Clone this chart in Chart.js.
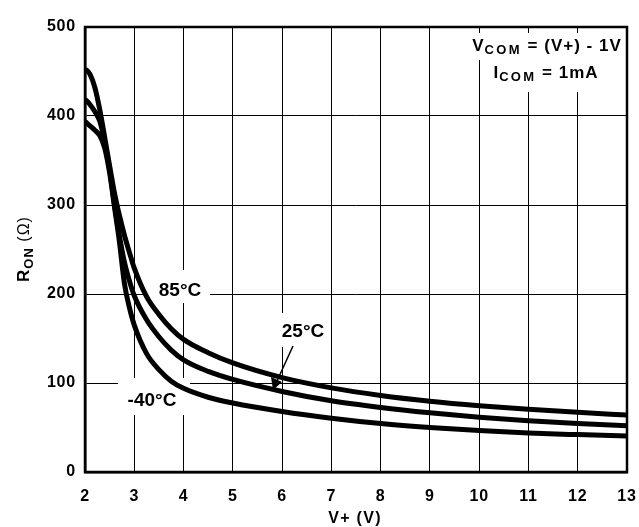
<!DOCTYPE html>
<html>
<head>
<meta charset="utf-8">
<script src="https://cdn.jsdelivr.net/npm/chart.js@4.4.1/dist/chart.umd.min.js"></script>
<style>
  html, body { margin: 0; padding: 0; background: #fff; }
  canvas { display: block; }
</style>
</head>
<body>
<canvas id="myChart" width="639" height="527"></canvas>
<script>
// supply voltage V+ (V)
const voltages = [2, 2.1, 2.2, 2.3, 2.4, 2.5, 2.6, 2.7, 2.8, 2.9, 3, 3.25, 3.5, 3.75, 4, 4.5, 5, 6, 7, 8, 9, 10, 11, 12, 13];
// on resistance (ohm) at each temperature
const ron85 = [453, 447, 432, 407, 376, 344, 313, 288, 266, 247, 229, 197, 177, 161, 149, 134, 122.5, 106, 94.5, 86, 79.5, 74.5, 70.5, 67, 64];
const ron25 = [419, 413, 405, 394, 371, 340, 300, 265, 236, 215, 198, 171, 152, 137, 126, 113, 104, 90.5, 80, 72.5, 66.5, 61.5, 57.5, 54.5, 52];
const ronM40 = [394, 389, 384, 378, 364, 336, 297, 258, 212, 185, 165, 133, 115, 102, 94, 84, 77.5, 68, 60.5, 54.5, 50, 46.5, 43.8, 42, 40.5];
const seriesLabels = ['85°C', '25°C', '-40°C'];
const xTicks = [2, 3, 4, 5, 6, 7, 8, 9, 10, 11, 12, 13];
const yTicks = [0, 100, 200, 300, 400, 500];

const FONT = '"Liberation Sans", Arial, sans-serif';

function toPoints(ys) {
    return voltages.map((v, i) => ({ x: v, y: ys[i] }));
}

// draw text made of pieces, some of them subscript
function drawRich(ctx, parts, cx, baseline) {
    let total = 0;
    parts.forEach(p => {
        ctx.font = p.font;
        ctx.letterSpacing = (p.ls || 0) + 'px';
        p.w = ctx.measureText(p.t).width;
        total += p.w;
    });
    let x = cx - total / 2;
    parts.forEach(p => {
        ctx.font = p.font;
        ctx.letterSpacing = (p.ls || 0) + 'px';
        ctx.fillText(p.t, x, baseline + (p.dy || 0));
        x += p.w;
    });
    ctx.letterSpacing = '0px';
}

const extras = {
    id: 'extras',
    beforeDraw(chart) {
        // reference type is a little wider than Liberation Sans
        chart.ctx.letterSpacing = '0.8px';
    },
    beforeDatasetsDraw(chart) {
        const ctx = chart.ctx;
        ctx.save();
        ctx.fillStyle = '#fff';
        // gaps in the grid behind the labels
        ctx.fillRect(148, 270, 62, 33);
        ctx.fillRect(118, 378, 72, 37);
        ctx.fillRect(275, 313, 55, 34);
        ctx.fillRect(465, 33, 161, 27);
        ctx.fillRect(485, 33, 141, 59);
        ctx.restore();
    },
    afterDatasetsDraw(chart) {
        const ctx = chart.ctx;
        const a = chart.chartArea;
        ctx.save();
        ctx.letterSpacing = '0px';
        ctx.strokeStyle = '#000';
        ctx.lineWidth = 2.5;
        ctx.strokeRect(a.left, a.top, a.right - a.left, a.bottom - a.top);

        ctx.fillStyle = '#000';
        ctx.textBaseline = 'alphabetic';
        ctx.textAlign = 'center';
        ctx.font = 'bold 19px ' + FONT;
        ctx.fillText(seriesLabels[0], 180, 296);
        ctx.fillText(seriesLabels[1], 303, 337);
        ctx.fillText(seriesLabels[2], 152, 406);

        // arrow to the 25°C curve
        ctx.lineWidth = 1.5;
        ctx.beginPath();
        ctx.moveTo(293, 346);
        ctx.lineTo(277, 381);
        ctx.stroke();
        ctx.beginPath();
        ctx.moveTo(273, 390);
        ctx.lineTo(271, 377);
        ctx.lineTo(282, 382);
        ctx.closePath();
        ctx.fill();

        ctx.textAlign = 'left';
        const big = 'bold 17px ' + FONT;
        const small = 'bold 13px ' + FONT;
        drawRich(ctx, [
            { t: 'V', font: big, ls: 1 },
            { t: 'COM', font: small, dy: 3, ls: 2.3 },
            { t: ' = (V+) - 1V', font: big, ls: 1 }
        ], 547, 51);
        drawRich(ctx, [
            { t: 'I', font: big, ls: 1 },
            { t: 'COM', font: small, dy: 3, ls: 2.3 },
            { t: ' = 1mA', font: big, ls: 1 }
        ], 546, 78);

        // axis titles
        drawRich(ctx, [{ t: 'V+ (V)', font: 'bold 16px ' + FONT, ls: 1.3 }], 355, 523);
        ctx.translate(29, 249);
        ctx.rotate(-Math.PI / 2);
        drawRich(ctx, [
            { t: 'R', font: 'bold 17px ' + FONT, ls: 1 },
            { t: 'ON', font: 'bold 13px ' + FONT, dy: 4, ls: 1 },
            { t: ' (Ω)', font: '16px ' + FONT, ls: 1 }
        ], 0, 0);
        ctx.restore();
    }
};

const lineStyle = {
    borderColor: '#000',
    borderWidth: 5,
    pointRadius: 0,
    fill: false,
    cubicInterpolationMode: 'monotone'
};

const ctx = document.getElementById('myChart').getContext('2d');
new Chart(ctx, {
    type: 'line',
    data: {
        datasets: [
            Object.assign({ label: seriesLabels[0], data: toPoints(ron85) }, lineStyle),
            Object.assign({ label: seriesLabels[1], data: toPoints(ron25) }, lineStyle),
            Object.assign({ label: seriesLabels[2], data: toPoints(ronM40) }, lineStyle)
        ]
    },
    options: {
        responsive: false,
        animation: false,
        layout: { padding: { top: 27, right: 12, left: 0, bottom: 0 } },
        plugins: {
            legend: { display: false },
            tooltip: { enabled: false }
        },
        scales: {
            x: {
                type: 'linear',
                min: 2,
                max: 13,
                afterFit: s => { s.height = 55; s.paddingRight = 0; s.paddingLeft = 0; },
                afterBuildTicks: s => { s.ticks = xTicks.map(v => ({ value: v })); },
                grid: { color: '#000', lineWidth: 1, drawTicks: false },
                border: { color: '#000', width: 2.5 },
                ticks: {
                    color: '#000',
                    padding: 15,
                    maxRotation: 0,
                    font: { family: FONT, size: 16, weight: 'bold' }
                }
            },
            y: {
                min: 0,
                max: 500,
                afterFit: s => { s.width = 85; s.paddingTop = 0; s.paddingBottom = 0; },
                afterBuildTicks: s => { s.ticks = yTicks.map(v => ({ value: v })); },
                grid: { color: '#000', lineWidth: 1, drawTicks: false },
                border: { color: '#000', width: 2.5 },
                ticks: {
                    color: '#000',
                    padding: 9,
                    font: { family: FONT, size: 16, weight: 'bold' }
                }
            }
        }
    },
    plugins: [extras]
});
</script>
</body>
</html>
